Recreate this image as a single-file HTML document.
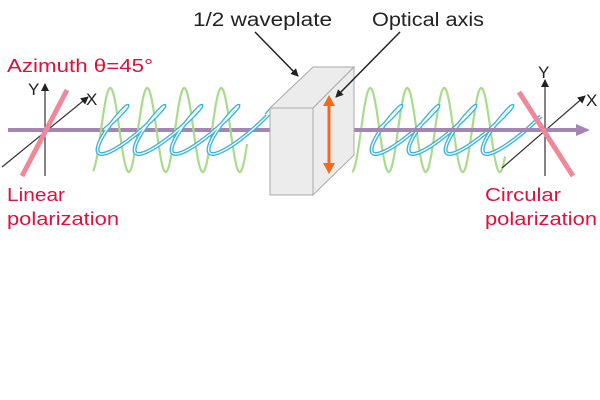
<!DOCTYPE html>
<html><head><meta charset="utf-8"><style>
html,body{margin:0;padding:0;background:#fff;}
svg{display:block;}
text{font-family:"Liberation Sans",sans-serif;}
</style></head><body>
<svg id="s" width="600" height="400" viewBox="0 0 600 400" xmlns="http://www.w3.org/2000/svg">
<defs>
<marker id="ak" markerWidth="8" markerHeight="8" refX="7" refY="4" orient="auto" markerUnits="userSpaceOnUse"><path d="M0,0 L8,4 L0,8 Z" fill="#222"/></marker>
</defs>
<line x1="45" y1="176" x2="45" y2="84" stroke="#333" stroke-width="1.2" marker-end="url(#ak)"/>
<line x1="2" y1="167" x2="88" y2="97" stroke="#333" stroke-width="1.2" marker-end="url(#ak)"/>
<line x1="8" y1="130" x2="270" y2="130" stroke="#a585b3" stroke-width="4"/>
<line x1="22" y1="176" x2="67" y2="90" stroke="#f0889a" stroke-width="5"/>
<g id="waves"></g>
<line x1="545" y1="176" x2="545" y2="80" stroke="#333" stroke-width="1.2" marker-end="url(#ak)"/>
<line x1="502" y1="168" x2="585" y2="96" stroke="#333" stroke-width="1.2" marker-end="url(#ak)"/>
<line x1="333" y1="130" x2="578" y2="130" stroke="#a585b3" stroke-width="4"/>
<path d="M576,124 L590,130 L576,136 Z" fill="#a585b3"/>
<line x1="519" y1="92" x2="573" y2="176" stroke="#f0889a" stroke-width="5"/>
<path d="M270,108 L313,67 L354,67 L313,108 Z" fill="#ececec" stroke="#aaa" stroke-width="1"/>
<path d="M313,108 L354,67 L354,155 L313,195 Z" fill="#ececec" stroke="#aaa" stroke-width="1"/>
<rect x="270" y="108" width="43" height="87" fill="#ececec" stroke="#aaa" stroke-width="1"/>
<line x1="329" y1="105" x2="329" y2="165" stroke="#f26a1b" stroke-width="3"/>
<path d="M323,106 L329,95 L335,106 Z" fill="#f26a1b"/>
<path d="M323,163 L329,174 L335,163 Z" fill="#f26a1b"/>
<line x1="255" y1="32" x2="298" y2="76" stroke="#222" stroke-width="1.5" marker-end="url(#ak)"/>
<line x1="400" y1="32" x2="336" y2="97" stroke="#222" stroke-width="1.5" marker-end="url(#ak)"/>
<text x="193" y="26" font-size="19" fill="#222" textLength="139" lengthAdjust="spacingAndGlyphs">1/2 waveplate</text>
<text x="372" y="26" font-size="19" fill="#222" textLength="112" lengthAdjust="spacingAndGlyphs">Optical axis</text>
<text x="7" y="72" font-size="18" fill="#e0103a" textLength="146" lengthAdjust="spacingAndGlyphs">Azimuth θ=45°</text>
<text x="28" y="95" font-size="17" fill="#222">Y</text>
<text x="86" y="105" font-size="17" fill="#222">X</text>
<text x="538" y="78" font-size="17" fill="#222">Y</text>
<text x="586" y="106" font-size="17" fill="#222">X</text>
<text x="7" y="201" font-size="18" fill="#e0103a" textLength="58" lengthAdjust="spacingAndGlyphs">Linear</text>
<text x="7" y="225" font-size="18" fill="#e0103a" textLength="112" lengthAdjust="spacingAndGlyphs">polarization</text>
<text x="485" y="201" font-size="18" fill="#e0103a" textLength="76" lengthAdjust="spacingAndGlyphs">Circular</text>
<text x="485" y="225" font-size="18" fill="#e0103a" textLength="112" lengthAdjust="spacingAndGlyphs">polarization</text>
</svg>
<script>
(function(){
var g=document.getElementById('waves');var ns='http://www.w3.org/2000/svg';
function add(d,c,w){var p=document.createElementNS(ns,'path');p.setAttribute('d',d);p.setAttribute('fill','none');p.setAttribute('stroke',c);p.setAttribute('stroke-width',w);g.appendChild(p);}
function green(x0,x1,ph){var d='';for(var x=x0;x<=x1;x+=0.5){var y=130-42*Math.sin((x-ph)/37*2*Math.PI);d+=(d?'L':'M')+x.toFixed(1)+','+y.toFixed(1);}add(d,'#a8dc8a',2.2);}
function blue(x0,n,per){var d='';for(var t=0;t<=n*2*Math.PI;t+=0.05){var x=x0+per*t/(2*Math.PI)+22*Math.sin(t)+8*Math.cos(t);var y=130-24*Math.sin(t);d+=(d?'L':'M')+x.toFixed(1)+','+y.toFixed(1);}add(d,'#3ab4e0',4);add(d,'#ffffff',1.3);}
green(93,247,101);
blue(96,4.4,37);
green(352,505,361);
blue(370,4.1,37);
})();
</script>
</body></html>
